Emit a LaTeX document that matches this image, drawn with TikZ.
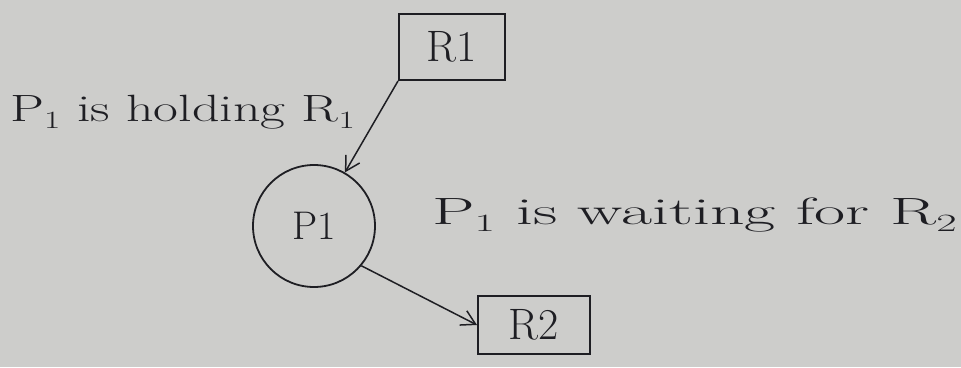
\documentclass[tikz,border=0pt]{standalone}
\usetikzlibrary{arrows.meta}
\definecolor{paper}{RGB}{205,205,203}
\definecolor{ink}{RGB}{30,30,35}
\begin{document}
\begin{tikzpicture}[x=1pt,y=-1pt,
  box/.style={draw=ink,line width=2pt,minimum width=106pt,minimum height=66pt,inner sep=0pt,text=ink,font=\fontsize{44}{50}\selectfont},
  proc/.style={draw=ink,line width=1.8pt,circle,minimum size=122pt,inner sep=0pt,text=ink,font=\fontsize{40}{46}\selectfont},
  lbl/.style={text=ink,font=\fontsize{38}{44}\selectfont,anchor=west,inner sep=0pt},
  conn/.style={draw=ink,line width=1.5pt,-{Straight Barb[length=14pt,width=16pt]}}]
\fill[paper] (0,0) rectangle (961,367);
\useasboundingbox (0,0) rectangle (961,367);
\node[box] (r1) at (452,47) {R1};
\node[proc] (p1) at (314,226) {P1};
\node[box,minimum width=112pt,minimum height=58pt] (r2) at (534,325) {R2};
\node[lbl] (t1) at (10,112) {\scalebox{1.42}[1]{P$_1$ is holding R$_1$}};
\node[lbl] (t2) at (432,215) {\scalebox{1.78}[1]{P$_1$ is waiting for R$_2$}};
\draw[conn] (r1.south west) -- (p1.60);
\draw[conn] (p1.-40) -- (r2.west);
\end{tikzpicture}
\end{document}
